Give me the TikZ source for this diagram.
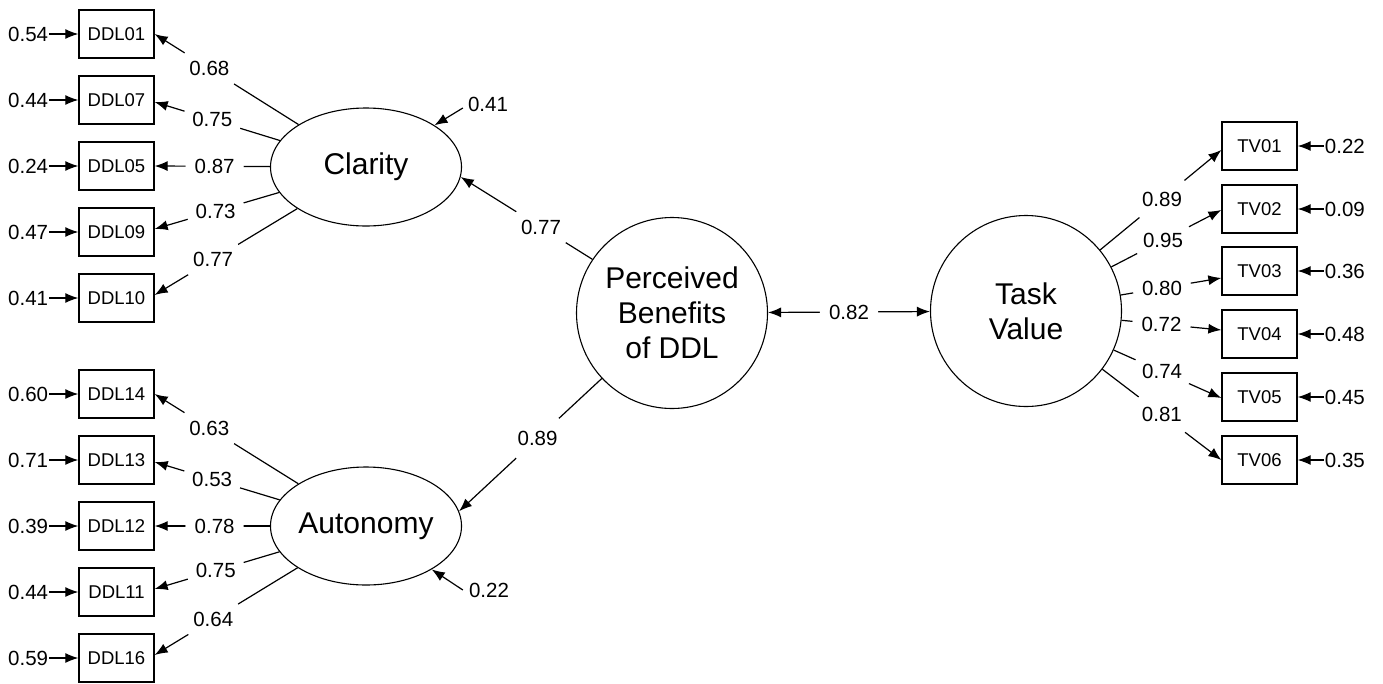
\documentclass[tikz,border=0pt]{standalone}
\usepackage{fontspec}
\setmainfont{Liberation Sans}
\usetikzlibrary{shapes.geometric,arrows.meta,calc}
\begin{document}
\begin{tikzpicture}[x=1pt,y=-1pt,
  lat/.style={draw,line width=1.1pt,ellipse,minimum width=191pt,minimum height=118pt,inner sep=0pt,font=\fontsize{30}{35}\selectfont},
  fac/.style={draw,line width=1.1pt,circle,minimum size=191pt,inner sep=0pt,align=center,font=\fontsize{30}{35}\selectfont},
  obs/.style={draw,line width=1.3pt,minimum width=75pt,minimum height=48pt,inner sep=0pt,font=\fontsize{18.5}{20}\selectfont},
  num/.style={inner sep=1pt,font=\fontsize{20.5}{22}\selectfont},
  lbl/.style={num,circle,fill=white,inner sep=6pt},
  arr/.style={line width=1.2pt,-{Latex[length=13pt,width=10pt]}},
  barr/.style={line width=1.2pt,{Latex[length=13pt,width=10pt]}-{Latex[length=13pt,width=10pt]}}]
\useasboundingbox (0,0) rectangle (1383,683);
% latent variables
\node[lat] (cla) at (366,167) {Clarity};
\node[lat] (aut) at (366,526) {Autonomy};
\node[fac] (pb) at (672,313) {Perceived\\Benefits\\of DDL};
\node[fac] (tv) at (1026,311) {Task\\Value};
% indicators
\foreach \n/\y in {01/34,07/100,05/166,09/232,10/298,14/394,13/460,12/526,11/592,16/658}{
  \node[obs] (d\n) at (116.5,\y) {DDL\n};
}
\foreach \n/\y in {01/146,02/209,03/271,04/334,05/397,06/460}{
  \node[obs] (t\n) at (1259.5,\y) {TV\n};
}
% residuals left
\foreach \n/\v in {01/0.54,07/0.44,05/0.24,09/0.47,10/0.41,14/0.60,13/0.71,12/0.39,11/0.44,16/0.59}{
  \node[num,anchor=west] (ed\n) at (7,0 |- d\n) {\v};
  \draw[arr] (ed\n.east) -- (d\n.west);
}
% residuals right
\foreach \n/\v in {01/0.22,02/0.09,03/0.36,04/0.48,05/0.45,06/0.35}{
  \node[num,anchor=east] (et\n) at (1366,0 |- t\n) {\v};
  \draw[arr] (et\n.west) -- (t\n.east);
}
% residuals of latent variables
\node[num] (ec) at (488,104) {0.41};
\draw[arr] ([xshift=-4pt,yshift=-4pt]ec.west) -- (cla);
\node[num] (ea) at (489,590) {0.22};
\draw[arr] ([xshift=-5pt]ea.west) -- (aut);
% Clarity loadings
\draw[arr] (cla) -- node[lbl,pos=0.62]{0.68} (d01.east);
\draw[arr] (cla) -- node[lbl,pos=0.54]{0.75} ([yshift=-2pt]d07.east);
\draw[arr] (cla) -- node[lbl,pos=0.48]{0.87} (d05.east);
\draw[arr] (cla) -- node[lbl,pos=0.51]{0.73} ([yshift=3pt]d09.east);
\draw[arr] (cla) -- node[lbl,pos=0.59]{0.77} ([yshift=3pt]d10.east);
% Autonomy loadings
\draw[arr] (aut) -- node[lbl,pos=0.62]{0.63} (d14.east);
\draw[arr] (aut) -- node[lbl,pos=0.54]{0.53} ([yshift=-2pt]d13.east);
\draw[arr] (aut) -- node[lbl,pos=0.48]{0.78} (d12.east);
\draw[arr] (aut) -- node[lbl,pos=0.51]{0.75} ([yshift=3pt]d11.east);
\draw[arr] (aut) -- node[lbl,pos=0.59]{0.64} ([yshift=3pt]d16.east);
% Task value loadings
\draw[arr] (tv) -- node[lbl,pos=0.51]{0.89} ([yshift=-4pt]t01.west);
\draw[arr] (tv) -- node[lbl,pos=0.47]{0.95} ([yshift=-1pt]t02.west);
\draw[arr] (tv) -- node[lbl,pos=0.41]{0.80} ([yshift=-7pt]t03.west);
\draw[arr] (tv) -- node[lbl,pos=0.40]{0.72} ([yshift=4pt]t04.west);
\draw[arr] (tv) -- node[lbl,pos=0.45]{0.74} ([yshift=-1pt]t05.west);
\draw[arr] (tv) -- node[lbl,pos=0.50]{0.81} (t06.west);
% structural paths
\draw[arr] (pb.146.5) -- node[lbl,pos=0.39]{0.77} (cla.-6);
\draw[arr] (pb.223) -- node[lbl,pos=0.45]{0.89} (aut.9);
\draw[barr] (pb) -- node[lbl]{0.82} (tv);
\end{tikzpicture}
\end{document}
